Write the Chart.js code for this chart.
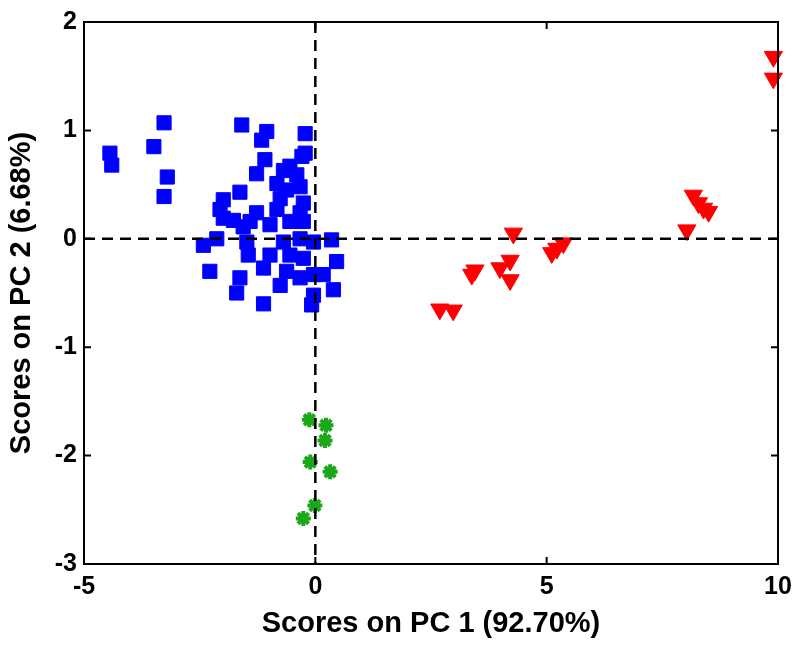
<!DOCTYPE html>
<html>
<head>
<meta charset="utf-8">
<script src="https://cdn.jsdelivr.net/npm/chart.js@4.4.0/dist/chart.umd.min.js"></script>
<style>
  html, body { margin: 0; padding: 0; background: #fff; }
  #wrap { width: 800px; height: 647px; }
</style>
</head>
<body>
<div id="wrap"><canvas id="scoresChart" width="800" height="647"></canvas></div>
<script>
'use strict';

// ── DATA ──
const blueScoresPC1 = [
  -4.44, -4.40, -3.27, -3.49, -3.20, -3.27,
  -1.59, -1.05, -1.16, -0.22, -0.22, -1.09, -0.29, -0.69, -1.27, -0.40,
  -0.83, -0.33, -1.63, -0.76, -1.99, -2.06, -0.26, -1.27, -0.83, -0.33,
  -0.55, -0.62, -1.77, -1.56,
  -1.99, -1.41, -0.55, -0.98, -0.26, -2.42, -2.13, -1.48, -0.69, -0.33,
  -0.04, 0.35, -1.45, -0.98, -0.55, -0.26, -2.28, -1.63, -1.12, -0.62,
  0.46, 0.17, -0.04, -1.70, -0.76, 0.39, -0.04, -1.12, -0.08, -0.33
];
const blueScoresPC2 = [
  0.79, 0.68, 1.07, 0.85, 0.57, 0.39,
  1.05, 0.99, 0.91, 0.97, 0.79, 0.73, 0.76, 0.63, 0.60, 0.59,
  0.51, 0.48, 0.43, 0.37, 0.36, 0.27, 0.33, 0.24, 0.27, 0.24,
  0.67, 0.45, 0.17, 0.11,
  0.19, 0.16, 0.16, 0.13, 0.16, -0.06, 0.00, -0.03, -0.03, 0.00,
  -0.03, -0.01, -0.15, -0.15, -0.15, -0.18, -0.30, -0.36, -0.27, -0.30,
  -0.21, -0.33, -0.33, -0.50, -0.43, -0.47, -0.52, -0.60, -0.61, -0.36
];

const redScoresPC1 = [
  4.28, 5.36, 5.22, 5.11, 4.21, 3.99, 3.45, 3.38, 4.21, 2.69, 2.98,
  9.90, 9.90, 8.17, 8.28, 8.39, 8.50, 8.03
];
const redScoresPC2 = [
  0.05, -0.04, -0.09, -0.13, -0.20, -0.27, -0.29, -0.33, -0.38, -0.65, -0.66,
  1.68, 1.48, 0.40, 0.33, 0.28, 0.25, 0.08
];

const greenScoresPC1 = [-0.13, 0.23, 0.21, -0.11, 0.32, -0.01, -0.26];
const greenScoresPC2 = [-1.67, -1.72, -1.86, -2.06, -2.15, -2.46, -2.58];

const xTicks = [-5, 0, 5, 10];
const yTicks = [-3, -2, -1, 0, 1, 2];

const xTitle = 'Scores on PC 1 (92.70%)';
const yTitle = 'Scores on PC 2 (6.68%)';

// ── HELPERS ──
const toPoints = (xs, ys) => xs.map((v, i) => ({ x: v, y: ys[i] }));

const FONT = "'Liberation Sans Narrow', 'Arial Narrow', 'Liberation Sans', Arial, sans-serif";

// ── PLUGIN: zero lines, box, inward ticks (MATLAB look) ──
const boxPlugin = {
  id: 'matlabBox',
  afterDatasetsDraw(chart) {
    const { ctx, chartArea: a, scales: { x, y } } = chart;
    const x0 = x.getPixelForValue(0);
    const y0 = y.getPixelForValue(0);
    ctx.save();
    ctx.strokeStyle = '#000';
    ctx.lineWidth = 2.5;
    ctx.setLineDash([11, 7]);
    ctx.beginPath();
    ctx.moveTo(a.left, y0);  ctx.lineTo(a.right, y0);
    ctx.moveTo(x0, a.top);   ctx.lineTo(x0, a.bottom);
    ctx.stroke();
    ctx.restore();
  },
  afterDraw(chart) {
    const { ctx, chartArea: a, scales: { x, y } } = chart;
    const len = 7;
    ctx.save();
    ctx.strokeStyle = '#000';
    ctx.lineWidth = 2;
    ctx.beginPath();
    xTicks.forEach(t => {
      const px = x.getPixelForValue(t);
      ctx.moveTo(px, a.bottom); ctx.lineTo(px, a.bottom - len);
      ctx.moveTo(px, a.top);    ctx.lineTo(px, a.top + len);
    });
    yTicks.forEach(t => {
      const py = y.getPixelForValue(t);
      ctx.moveTo(a.left, py);  ctx.lineTo(a.left + len, py);
      ctx.moveTo(a.right, py); ctx.lineTo(a.right - len, py);
    });
    ctx.stroke();
    ctx.strokeRect(a.left, a.top, a.right - a.left, a.bottom - a.top);
    ctx.restore();
  }
};

// ── CHART ──
const ctx = document.getElementById('scoresChart').getContext('2d');

new Chart(ctx, {
  type: 'scatter',
  data: {
    datasets: [
      {
        label: 'group 1',
        data: toPoints(blueScoresPC1, blueScoresPC2),
        pointStyle: 'rect',
        pointRadius: 10,
        backgroundColor: '#0000ff',
        borderColor: '#0000ff',
        borderWidth: 1,
      },
      {
        label: 'group 2',
        data: toPoints(redScoresPC1, redScoresPC2),
        pointStyle: 'triangle',
        pointRotation: 180,
        pointRadius: 10.5,
        backgroundColor: '#ff0000',
        borderColor: '#ff0000',
        borderWidth: 1,
        clip: false,
      },
      {
        label: 'group 3',
        data: toPoints(greenScoresPC1, greenScoresPC2),
        pointStyle: 'star',
        pointRadius: 7.5,
        backgroundColor: '#1aa81a',
        borderColor: '#1aa81a',
        borderWidth: 4,
      },
    ]
  },
  options: {
    responsive: false,
    animation: false,
    events: [],
    layout: { padding: { top: 22, right: 22, left: 0, bottom: 0 } },
    plugins: {
      legend: { display: false },
      tooltip: { enabled: false },
    },
    scales: {
      x: {
        type: 'linear',
        min: -5, max: 10,
        afterBuildTicks: s => { s.ticks = xTicks.map(v => ({ value: v })); },
        afterFit: s => { s.height = 83; },
        grid: { display: false, drawTicks: false },
        border: { display: false },
        ticks: {
          color: '#000',
          padding: 8,
          maxRotation: 0,
          font: { family: FONT, size: 25, weight: 'bold' },
        },
        title: {
          display: true,
          text: xTitle,
          color: '#000',
          padding: { top: 0, bottom: 6 },
          font: { family: FONT, size: 29, weight: 'bold', lineHeight: 1.2 },
        },
      },
      y: {
        type: 'linear',
        min: -3, max: 2,
        afterBuildTicks: s => { s.ticks = yTicks.map(v => ({ value: v })); },
        afterFit: s => { s.width = 84; },
        grid: { display: false, drawTicks: false },
        border: { display: false },
        ticks: {
          color: '#000',
          padding: 7,
          font: { family: FONT, size: 25, weight: 'bold' },
        },
        title: {
          display: true,
          text: yTitle,
          color: '#000',
          padding: { top: 5, bottom: 0 },
          font: { family: FONT, size: 29, weight: 'bold', lineHeight: 1.2 },
        },
      },
    },
  },
  plugins: [boxPlugin],
});
</script>
</body>
</html>
